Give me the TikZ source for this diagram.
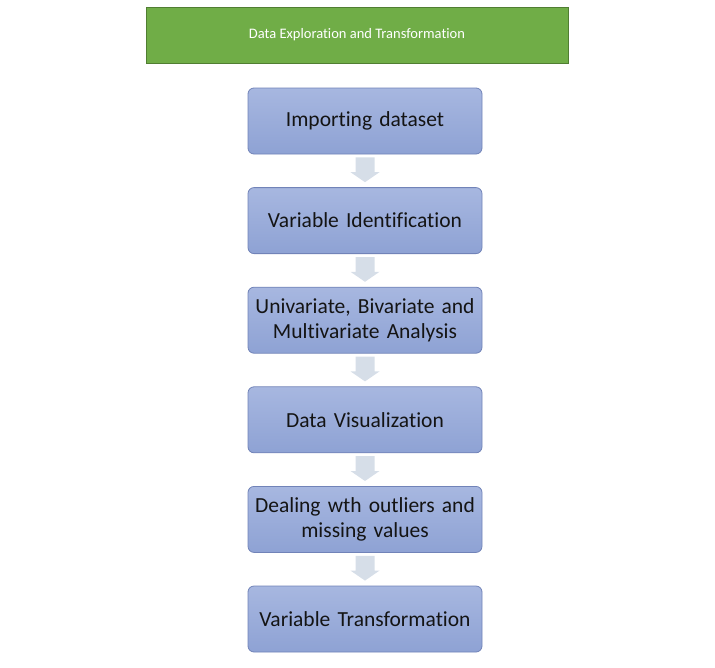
\documentclass[tikz,border=0pt]{standalone}
\usepackage{fontspec}
\setmainfont{Carlito}[Ligatures=NoCommon]
\usetikzlibrary{calc}
\definecolor{hdrgreen}{HTML}{70AD47}
\definecolor{hdrborder}{HTML}{507E32}
\definecolor{boxtop}{HTML}{A7B7E0}
\definecolor{boxbot}{HTML}{8EA2D4}
\definecolor{boxborder}{HTML}{7183B8}
\definecolor{arrowfill}{HTML}{D6DEE8}
\tikzset{
  x=1pt, y=-1pt,
  header/.style={draw=hdrborder, line width=0.8pt, fill=hdrgreen, minimum width=422pt, minimum height=56pt, text=white, font=\fontsize{14.5}{17}\selectfont, inner sep=0pt},
  stepbox/.style={draw=boxborder, line width=0.8pt, rounded corners=6pt, top color=boxtop, bottom color=boxbot, minimum width=234pt, minimum height=66pt, text width=232pt, align=center, inner sep=0pt, font=\fontsize{21.5}{25}\selectfont, text=black!92},
  blockarrow/.style={fill=arrowfill, draw=none}
}
\newcommand{\blockarr}[2]{%
  \path let \p1=(#1.south), \p2=(#2.north) in
    [blockarrow] (\x1-9.5pt,\y1-3pt) -- (\x1+9.5pt,\y1-3pt) -- (\x1+9.5pt,\y2+15pt) -- (\x1+14.5pt,\y2+15pt)
    -- (\x1,\y2+5pt) -- (\x1-14.5pt,\y2+15pt) -- (\x1-9.5pt,\y2+15pt) -- cycle;}
\begin{document}
\begin{tikzpicture}
\useasboundingbox (0,0) rectangle (715,667);
\node[header] (hdr) at (357,35) {Data Exploration and Transformation};
\node[stepbox] (b1) at (365,121) {Importing dataset};
\node[stepbox] (b2) at (365,220.6) {Variable Identification};
\node[stepbox] (b3) at (365,320.2) {Univariate, Bivariate and\\Multivariate Analysis};
\node[stepbox] (b4) at (365,419.8) {Data Visualization};
\node[stepbox] (b5) at (365,519.4) {Dealing wth outliers and\\missing values};
\node[stepbox] (b6) at (365,619) {Variable Transformation};
\blockarr{b1}{b2}
\blockarr{b2}{b3}
\blockarr{b3}{b4}
\blockarr{b4}{b5}
\blockarr{b5}{b6}
\end{tikzpicture}
\end{document}
